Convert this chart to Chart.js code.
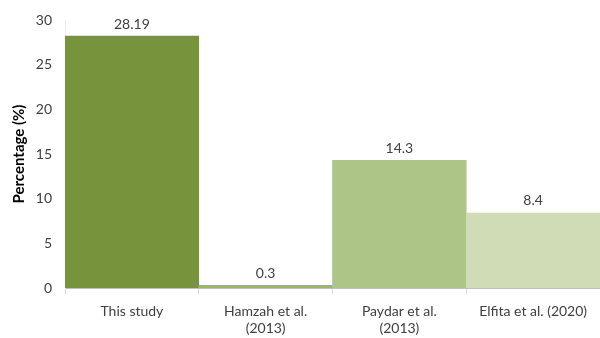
<!DOCTYPE html>
<html>
<head>
<meta charset="utf-8">
<script src="https://cdn.jsdelivr.net/npm/chart.js@4/dist/chart.umd.min.js"></script>
<style>
  html, body { margin: 0; padding: 0; background: #fff; }
  #wrap { width: 600px; height: 338px; position: relative; }
</style>
</head>
<body>
<div id="wrap"><canvas id="c"></canvas></div>
<script>
// Studies compared and the reported percentage for each
const categories = [
  'This study',
  ['Hamzah et al.', '(2013)'],
  ['Paydar et al.', '(2013)'],
  'Elfita et al. (2020)'
];
const percentages = [28.19, 0.3, 14.3, 8.4];
const valueLabels = ['28.19', '0.3', '14.3', '8.4'];
const yTicks = [0, 5, 10, 15, 20, 25, 30];
const barColors = ['#77933c', '#9bbb59', '#adc687', '#d0dcb6'];

const FONT = 'Lato, "Open Sans", sans-serif';
const TEXT = '#404040';

// Writes each bar's value just above its top
const valueLabelPlugin = {
  id: 'valueLabels',
  afterDatasetsDraw(chart) {
    const ctx = chart.ctx;
    const meta = chart.getDatasetMeta(0);
    ctx.save();
    ctx.font = '14px ' + FONT;
    ctx.fillStyle = TEXT;
    ctx.textAlign = 'center';
    ctx.textBaseline = 'bottom';
    meta.data.forEach((bar, i) => {
      ctx.fillText(valueLabels[i], bar.x, bar.y - 5);
    });
    ctx.restore();
  }
};

new Chart(document.getElementById('c'), {
  type: 'bar',
  data: {
    labels: categories,
    datasets: [{
      data: percentages,
      backgroundColor: barColors,
      borderWidth: 0,
      barPercentage: 1.0,
      categoryPercentage: 1.0
    }]
  },
  options: {
    responsive: true,
    maintainAspectRatio: false,
    animation: false,
    layout: { padding: { top: 20, right: 0, left: 0, bottom: 0 } },
    plugins: {
      legend: { display: false },
      tooltip: { enabled: false }
    },
    scales: {
      x: {
        offset: true,
        grid: {
          display: true,
          drawOnChartArea: false,
          drawTicks: true,
          tickLength: 6,
          color: '#d9d9d9'
        },
        border: { display: true, color: '#bfbfbf', width: 1 },
        ticks: {
          color: TEXT,
          font: { family: FONT, size: 14 },
          padding: 9,
          maxRotation: 0,
          autoSkip: false
        },
        afterFit(scale) { scale.height = 50; }
      },
      y: {
        min: 0,
        max: 30,
        afterBuildTicks(scale) {
          scale.ticks = yTicks.map(v => ({ value: v }));
        },
        grid: { display: false },
        border: { display: true, color: '#ececec', width: 1 },
        ticks: {
          color: TEXT,
          font: { family: FONT, size: 14 },
          padding: 5
        },
        title: {
          display: true,
          text: 'Percentage (%)',
          color: '#000',
          font: { family: FONT, size: 15, weight: 'bold' },
          padding: { top: 10, bottom: 2 }
        },
        afterFit(scale) { scale.width = 65; }
      }
    }
  },
  plugins: [valueLabelPlugin]
});
</script>
</body>
</html>
